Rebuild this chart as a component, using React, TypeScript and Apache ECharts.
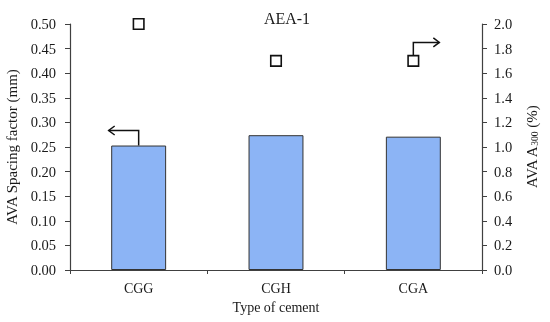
import React, { useEffect, useRef } from "react";
import * as echarts from "echarts";

const categories = ["CGG", "CGH", "CGA"];
const spacingFactor = [0.253, 0.274, 0.271];
const a300 = [2.0, 1.7, 1.7];
const leftTicks = { min: 0, max: 0.5, interval: 0.05 };
const rightTicks = { min: 0, max: 2.0, interval: 0.2 };

const FONT = "Liberation Serif";
const TXT = "#1a1a1a";
const AX = "#404040";

export default function App() {
  const ref = useRef<HTMLDivElement>(null);
  useEffect(() => {
    if (!ref.current) return;
    const chart = echarts.init(ref.current, undefined, { renderer: "svg" });

    const arrowItem = (dir: number, startOffset: number, up: number, len: number) =>
      (params: any, api: any) => {
        const p = api.coord([api.value(0), api.value(1)]);
        const x0 = p[0];
        const y0 = p[1] - startOffset;
        const y1 = y0 - up;
        const x1 = x0 + dir * len;
        const style = { stroke: "#111", lineWidth: 1.5, fill: "none" };
        return {
          type: "group",
          children: [
            { type: "polyline", shape: { points: [[x0, y0], [x0, y1], [x1, y1]] }, style },
            {
              type: "polyline",
              shape: { points: [[x1 - dir * 6, y1 - 4.5], [x1, y1], [x1 - dir * 6, y1 + 4.5]] },
              style,
            },
          ],
        };
      };

    chart.setOption({
      animation: false,
      textStyle: { fontFamily: FONT, color: TXT },
      title: {
        text: "AEA-1",
        left: 282,
        top: 5,
        textAlign: "center",
        textStyle: { fontFamily: FONT, fontSize: 16, fontWeight: "normal", color: TXT },
      },
      grid: {
        left: 70,
        right: 68,
        top: 24,
        bottom: 52,
        containLabel: false,
        outerBoundsMode: "none",
      },
      xAxis: {
        type: "category",
        data: categories,
        name: "Type of cement",
        nameLocation: "middle",
        nameGap: 30,
        nameTextStyle: { fontFamily: FONT, fontSize: 14, color: TXT },
        axisLine: { lineStyle: { color: AX, width: 1.2 } },
        axisTick: { show: true, length: 4, lineStyle: { color: AX } },
        axisLabel: { fontFamily: FONT, fontSize: 14, color: TXT, margin: 11 },
      },
      yAxis: [
        {
          type: "value",
          ...leftTicks,
          name: "AVA Spacing factor (mm)",
          nameLocation: "middle",
          nameGap: 48,
          nameRotate: 90,
          nameTextStyle: { fontFamily: FONT, fontSize: 15, color: TXT },
          splitLine: { show: false },
          axisLine: { show: true, lineStyle: { color: AX, width: 1.2 } },
          axisTick: { show: true, length: 5, lineStyle: { color: AX } },
          axisLabel: {
            fontFamily: FONT,
            fontSize: 14.5,
            color: TXT,
            margin: 14,
            formatter: (v: number) => v.toFixed(2),
          },
        },
        {
          type: "value",
          position: "right",
          ...rightTicks,
          name: "AVA A{sub|300} (%)",
          nameLocation: "middle",
          nameGap: 41,
          nameRotate: 90,
          nameTextStyle: {
            fontFamily: FONT,
            fontSize: 15,
            color: TXT,
            rich: {
              sub: { fontFamily: FONT, fontSize: 9.5, color: TXT, padding: [7, 0, 0, 0] },
            },
          },
          splitLine: { show: false },
          axisLine: { show: true, lineStyle: { color: AX, width: 1.2 } },
          axisTick: { show: true, length: 5, lineStyle: { color: AX } },
          axisLabel: {
            fontFamily: FONT,
            fontSize: 14.5,
            color: TXT,
            margin: 12,
            formatter: (v: number) => v.toFixed(1),
          },
        },
      ],
      series: [
        {
          type: "bar",
          yAxisIndex: 0,
          data: spacingFactor,
          barWidth: "40%",
          itemStyle: { color: "#8cb4f5", borderColor: "#333", borderWidth: 1 },
        },
        {
          type: "scatter",
          yAxisIndex: 1,
          data: a300,
          symbol: "rect",
          symbolSize: 10.5,
          itemStyle: { color: "#fff", borderColor: "#111", borderWidth: 1.6, opacity: 1 },
          z: 5,
        },
        {
          type: "custom",
          yAxisIndex: 0,
          data: [[0, spacingFactor[0]]],
          renderItem: arrowItem(-1, 0, 15, 30),
          z: 6,
        },
        {
          type: "custom",
          yAxisIndex: 1,
          data: [[2, a300[2]]],
          renderItem: arrowItem(1, 5.5, 13, 26),
          z: 6,
        },
      ],
    });
    return () => chart.dispose();
  }, []);
  return (
    <div
      ref={ref}
      style={{ position: "fixed", left: 0, top: 0, width: 550, height: 322 }}
    />
  );
}
